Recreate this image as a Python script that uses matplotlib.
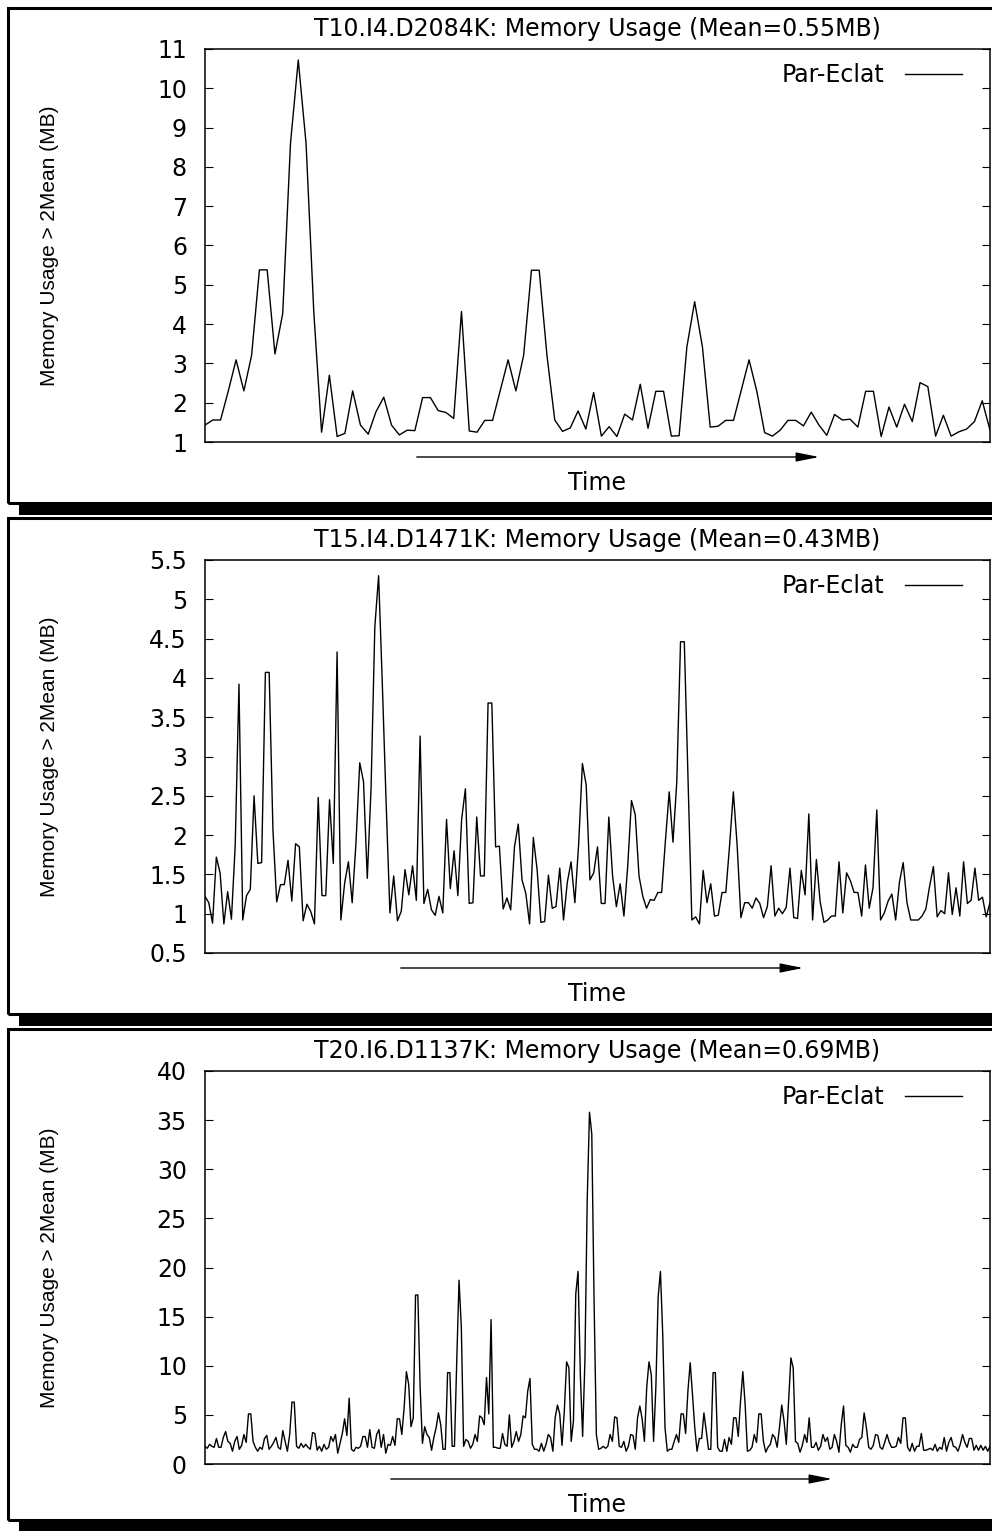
import numpy as np
import matplotlib
matplotlib.use('Agg')
import matplotlib.pyplot as plt
from matplotlib.patches import Rectangle
from matplotlib.ticker import FormatStrFormatter

plt.rcParams['font.family'] = ['DejaVu Sans']

# memory usage samples above 2*mean (MB), one list per dataset
t10_usage = [1.43, 1.56, 1.56, 2.3, 3.09, 2.3, 3.21, 5.38, 5.38, 3.24,
             4.27, 8.6, 10.72, 8.6, 4.3, 1.25, 2.7, 1.14, 1.22, 2.3,
             1.43, 1.2, 1.77, 2.14, 1.43, 1.18, 1.3, 1.29, 2.13, 2.13,
             1.8, 1.75, 1.6, 4.32, 1.28, 1.25, 1.55, 1.55, 2.32, 3.09,
             2.3, 3.21, 5.37, 5.37, 3.2, 1.56, 1.27, 1.36, 1.79, 1.33,
             2.26, 1.15, 1.39, 1.14, 1.71, 1.56, 2.47, 1.35, 2.29, 2.29,
             1.15, 1.16, 3.42, 4.57, 3.42, 1.38, 1.4, 1.55, 1.55, 2.32,
             3.09, 2.29, 1.24, 1.15, 1.3, 1.55, 1.55, 1.41, 1.76, 1.43,
             1.17, 1.70, 1.56, 1.58, 1.38, 2.29, 2.29, 1.14, 1.89, 1.38,
             1.96, 1.52, 2.51, 2.41, 1.15, 1.68, 1.15, 1.26, 1.33, 1.52,
             2.05, 1.3]

t15_usage = [1.22, 1.14, 0.88, 1.72, 1.52, 0.87, 1.28, 0.93, 1.86, 3.92,
             0.92, 1.23, 1.31, 2.5, 1.64, 1.65, 4.07, 4.07, 2.07, 1.15,
             1.37, 1.37, 1.68, 1.16, 1.89, 1.85, 0.91, 1.12, 1.03, 0.87,
             2.48, 1.23, 1.23, 2.45, 1.64, 4.33, 0.92, 1.39, 1.66, 1.14,
             1.9, 2.92, 2.68, 1.45, 2.6, 4.65, 5.3, 3.9, 2.4, 1.01,
             1.48, 0.91, 1.03, 1.56, 1.24, 1.61, 1.17, 3.26, 1.13, 1.31,
             1.05, 0.98, 1.22, 1.01, 2.2, 1.32, 1.8, 1.23, 2.2, 2.59,
             1.13, 1.14, 2.23, 1.48, 1.48, 3.68, 3.68, 1.85, 1.86, 1.06,
             1.2, 1.05, 1.85, 2.14, 1.43, 1.26, 0.87, 1.97, 1.56, 0.89,
             0.9, 1.49, 1.07, 1.09, 1.58, 0.92, 1.4, 1.66, 1.14, 1.88,
             2.91, 2.64, 1.43, 1.52, 1.85, 1.13, 1.13, 2.23, 1.48, 1.09,
             1.38, 0.97, 1.6, 2.44, 2.26, 1.48, 1.22, 1.07, 1.18, 1.17,
             1.27, 1.27, 1.93, 2.55, 1.91, 2.67, 4.46, 4.46, 2.7, 0.92,
             0.96, 0.87, 1.55, 1.14, 1.38, 0.97, 0.98, 1.27, 1.27,
             1.87, 2.55, 1.87, 0.95, 1.14, 1.14, 1.07, 1.2, 1.13, 0.95,
             1.09, 1.61, 0.97, 1.07, 1.0, 1.08, 1.58, 0.95, 0.94, 1.55,
             1.24, 2.27, 0.92, 1.69, 1.15, 0.89, 0.92, 0.97, 0.97, 1.66,
             1.01, 1.52, 1.42, 1.27, 1.27, 0.97, 1.62, 1.07, 1.33, 2.32,
             0.92, 1.01, 1.16, 1.25, 0.92, 1.4, 1.65, 1.14, 0.92, 0.92,
             0.92, 0.97, 1.06, 1.35, 1.6, 0.96, 1.04, 1.0, 1.52, 0.99,
             1.33, 0.97, 1.66, 1.13, 1.17, 1.58, 1.17, 1.21, 0.96, 1.14]

t20_usage = [1.8, 1.6, 2.0, 1.8, 1.7, 2.6, 1.7, 1.7, 2.7, 3.3,
             2.3, 2.1, 1.3, 2.3, 2.8, 1.5, 1.9, 3.0, 2.2, 5.1,
             5.1, 2.3, 1.7, 1.3, 1.7, 1.5, 2.6, 2.9, 1.5, 1.8,
             2.2, 2.7, 1.7, 1.5, 3.4, 2.3, 1.3, 3.0, 6.3, 6.3,
             1.8, 1.6, 2.1, 1.7, 2.0, 1.7, 1.5, 3.2, 3.1, 1.4,
             1.8, 1.3, 2.0, 1.5, 1.7, 2.8, 2.3, 3.0, 1.1, 2.1,
             3.1, 4.6, 2.9, 6.7, 1.5, 1.3, 1.7, 1.6, 1.8, 2.8,
             2.8, 1.7, 3.5, 1.7, 1.6, 3.0, 3.5, 1.7, 3.0, 1.1,
             2.0, 1.9, 2.8, 1.9, 4.6, 4.6, 3.0, 5.7, 9.4, 8.1,
             3.8, 4.7, 17.2, 17.2, 7.8, 2.1, 3.8, 3.0, 2.7, 1.4,
             2.7, 3.7, 5.2, 4.0, 1.5, 1.5, 9.3, 9.3, 1.8, 1.8,
             10.5, 18.7, 13.9,
             1.8, 2.5, 2.3, 1.6, 2.0, 3.0, 2.3, 4.9, 4.7, 4.0,
             8.8, 5.1, 14.7, 1.7, 1.7, 1.6, 1.6, 3.1, 2.0, 1.8,
             5.0, 1.7, 2.3, 3.3, 2.3, 3.0, 4.9, 4.7, 7.4, 8.7,
             2.0, 1.5, 1.5, 1.3, 2.1, 1.3, 2.0, 3.0, 2.7, 1.3,
             4.7, 6.0, 5.1, 1.9, 5.4, 10.4, 9.8, 2.3, 4.4, 17.3,
             19.6, 9.1, 2.8, 10.5, 26.8, 35.8, 33.6, 16.6, 3.0, 1.5,
             1.6, 1.8, 1.6, 1.8, 3.0, 2.3, 4.8, 4.7, 1.8, 1.7,
             2.3, 1.3, 1.8, 3.0, 2.9, 1.5, 4.7, 5.9, 4.6, 2.3,
             7.8, 10.4, 9.1, 2.3, 7.8, 17.0, 19.6, 13.2, 3.7, 1.3,
             1.5, 1.5, 2.3, 3.0, 2.2, 5.1, 5.1, 3.1, 7.4, 10.3,
             7.1, 3.7, 1.3, 2.6, 2.6, 5.2, 3.4, 1.5, 1.5, 9.3,
             9.3, 1.7, 1.3, 1.3, 2.5, 1.3,
             2.7, 2.0, 4.7, 4.7, 2.8, 6.4, 9.4, 6.1, 1.3, 1.4,
             1.7, 3.0, 2.2, 5.1, 5.1, 2.3, 1.2, 1.7, 2.0, 3.0,
             2.7, 1.7, 3.7, 6.0, 4.4, 2.0, 6.4, 10.8, 9.8, 2.3,
             2.1, 1.2, 1.9, 3.0, 2.2, 4.7, 1.7, 1.7, 2.2, 1.4,
             1.8, 3.0, 2.3, 2.7, 1.5, 1.7, 3.0, 2.3, 1.2, 4.0,
             5.9, 1.9, 1.7, 1.2, 2.0, 1.7, 1.7, 2.5, 2.7, 5.2,
             3.7, 1.7, 1.5, 1.9, 3.0, 2.9, 1.7, 1.5, 2.2, 3.0,
             2.2, 1.7, 1.7, 1.8, 2.7, 2.1, 4.7, 4.7, 1.7, 1.3,
             2.1, 1.3, 1.8, 1.8, 3.1, 1.4, 1.4, 1.5, 1.6, 1.4,
             2.0, 1.3, 1.7, 1.5, 2.7, 1.3, 2.2, 2.7, 1.8, 1.7,
             1.3, 2.0, 3.0, 2.2, 1.7, 2.6, 2.6, 1.4, 1.9, 1.4,
             1.9, 1.4, 1.8, 1.3, 1.8]

titles = ['T10.I4.D2084K: Memory Usage (Mean=0.55MB)',
          'T15.I4.D1471K: Memory Usage (Mean=0.43MB)',
          'T20.I6.D1137K: Memory Usage (Mean=0.69MB)']
y_ranges = [(1, 11, 1), (0.5, 5.5, 0.5), (0, 40, 5)]
series = [t10_usage, t15_usage, t20_usage]

W, H = 992, 1531
fig = plt.figure(figsize=(W / 100, H / 100), dpi=100)


def fx(px):
    return px / W


def fy(py):
    return 1 - py / H


# pixel layout of each panel: frame top, frame bottom, axes top, axes bottom, arrow start/end
panels = [(8, 503, 49, 442, 414, 822),
          (518, 1014, 560, 953, 398, 806),
          (1029, 1520, 1071, 1464, 388, 835)]

fs = 17
for i, (ftop, fbot, atop, abot, a0, a1) in enumerate(panels):
    # boxed panel with a heavy shadow underneath
    fig.patches.append(Rectangle((fx(8), fy(fbot)), fx(1000), fy(ftop) - fy(fbot),
                                 transform=fig.transFigure, fill=False,
                                 lw=2.2, ec='black'))
    fig.patches.append(Rectangle((fx(19), fy(fbot + 12)), fx(980), fy(fbot + 2) - fy(fbot + 12),
                                 transform=fig.transFigure, fc='black', ec='none'))

    ax = fig.add_axes([fx(205), fy(abot), fx(990) - fx(205), fy(atop) - fy(abot)])
    data = series[i]
    ax.plot(np.arange(len(data)), data, color='black', lw=1.0, label='Par-Eclat')
    ax.set_xlim(0, len(data) - 1)
    lo, hi, step = y_ranges[i]
    ax.set_ylim(lo, hi)
    ax.set_yticks(np.arange(lo, hi + step / 2, step))
    ax.yaxis.set_major_formatter(FormatStrFormatter('%g'))
    ax.set_xticks([])
    ax.tick_params(axis='y', direction='in', length=5.8, width=0.8, right=True,
                   labelsize=fs, pad=13)
    for sp in ax.spines.values():
        sp.set_linewidth(1.1)

    ax_h = abot - atop
    ax.text(0.5, 1 + 20 / ax_h, titles[i], transform=ax.transAxes,
            ha='center', va='center', fontsize=fs)
    ax.set_ylabel('Memory Usage > 2Mean (MB)', fontsize=15,
                  family=['Liberation Sans'])
    ax.yaxis.set_label_coords((50 - 205) / 785, 0.5)
    ax.yaxis.label.set_va('center')
    ax.legend(loc='upper right', frameon=False, markerfirst=False, fontsize=fs,
              handlelength=2.4, handletextpad=0.9, borderpad=0, borderaxespad=0,
              bbox_to_anchor=(1 - 28 / 785, 1 - 14 / ax_h))

    # time arrow and caption under the axes
    ax.annotate('', xy=(fx(a1), fy(abot + 15)), xytext=(fx(a0), fy(abot + 15)),
                xycoords='figure fraction', textcoords='figure fraction',
                arrowprops=dict(arrowstyle='-|>,head_length=1.0,head_width=0.2',
                                mutation_scale=14, lw=1.0, color='black'),
                annotation_clip=False)
    fig.text(fx(597), fy(abot + 41), 'Time', ha='center', va='center', fontsize=fs)

fig.savefig('out.png', dpi=100)
